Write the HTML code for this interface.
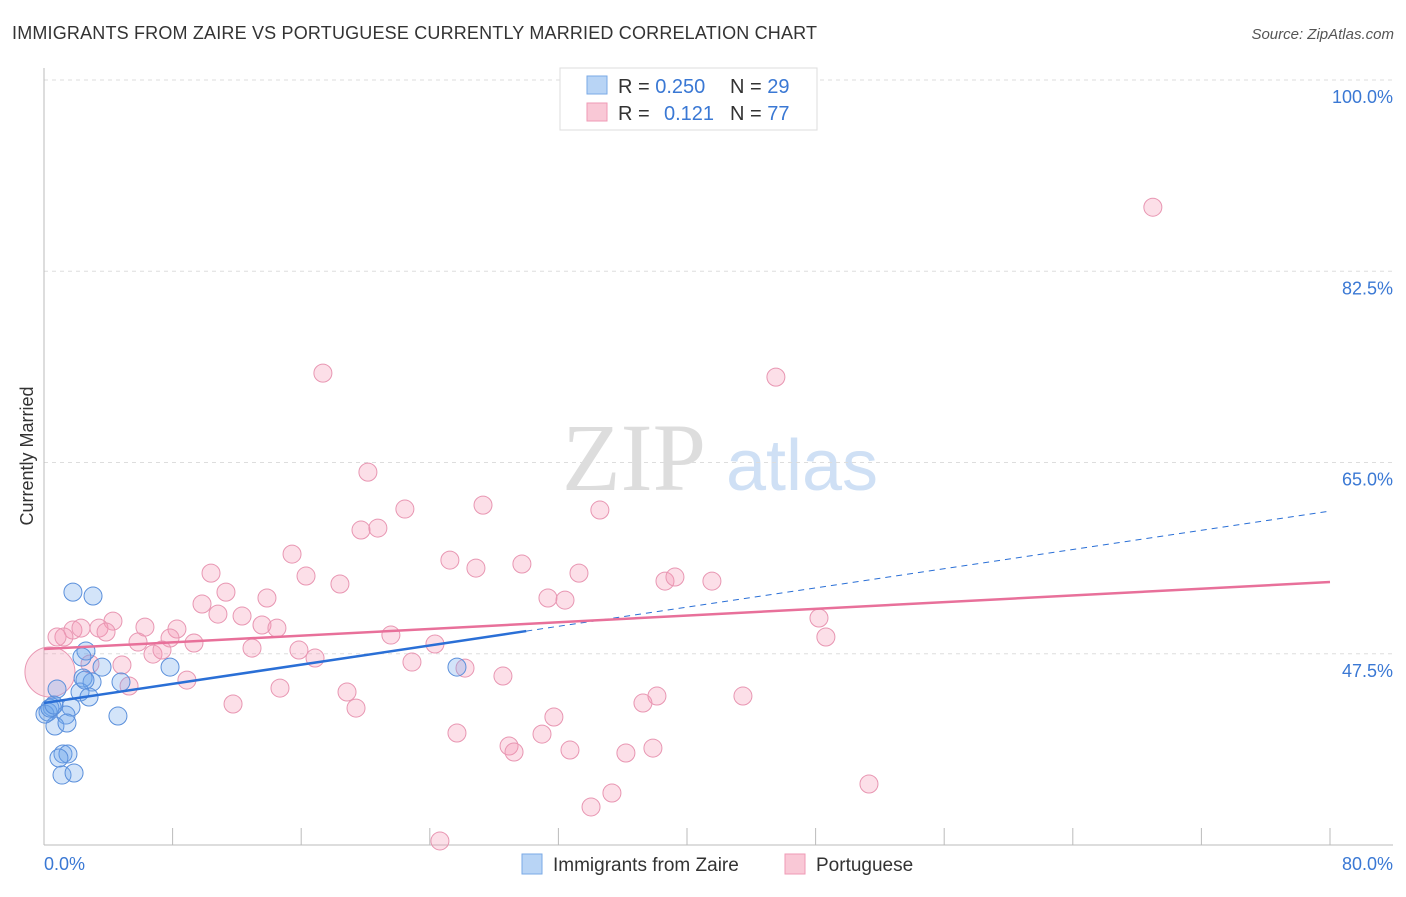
<!DOCTYPE html>
<html><head><meta charset="utf-8"><style>
body{margin:0;background:#fff;font-family:"Liberation Sans",sans-serif;}
</style></head><body>
<svg id="chart" width="1406" height="892" xmlns="http://www.w3.org/2000/svg" font-family="Liberation Sans, sans-serif">
<text x="12" y="39" font-size="18" fill="#333" textLength="805">IMMIGRANTS FROM ZAIRE VS PORTUGUESE CURRENTLY MARRIED CORRELATION CHART</text>
<text x="1394" y="39" font-size="15" fill="#555" text-anchor="end" font-style="italic">Source: ZipAtlas.com</text>
<g>
<text x="634" y="490" font-size="96" fill="#ddd" font-family="Liberation Serif, serif" text-anchor="middle">ZIP</text>
<text x="802" y="490" font-size="72" fill="#cfe0f5" text-anchor="middle">atlas</text>
</g>
<text transform="translate(33,456) rotate(-90)" font-size="18" fill="#333" text-anchor="middle">Currently Married</text>
<g id="grid"></g><g id="axes"></g><g id="marks"></g>
<g>
<rect x="560" y="68" width="257" height="62" fill="#fff" stroke="#ddd"/>
<rect x="587" y="76" width="20" height="18" fill="#b8d4f5" stroke="#7aaae6"/>
<rect x="587" y="103" width="20" height="18" fill="#f9c8d6" stroke="#ef9ab5"/>
<text x="618" y="93" font-size="20" fill="#333">R = <tspan fill="#3a78d4">0.250</tspan><tspan x="730">N = </tspan><tspan fill="#3a78d4">29</tspan></text>
<text x="618" y="120" font-size="20" fill="#333">R = <tspan x="664" fill="#3a78d4">0.121</tspan><tspan x="730">N = </tspan><tspan fill="#3a78d4">77</tspan></text>
</g>
<g>
<rect x="522" y="854" width="20" height="20" fill="#b8d4f5" stroke="#7aaae6"/>
<text x="553" y="871" font-size="19" fill="#333">Immigrants from Zaire</text>
<rect x="785" y="854" width="20" height="20" fill="#f9c8d6" stroke="#ef9ab5"/>
<text x="816" y="871" font-size="19" fill="#333">Portuguese</text>
</g>
</svg>
<script>
const blueX=[1.80,3.05,2.61,2.36,3.61,7.84,25.69,2.43,2.99,4.79,0.81,2.24,2.80,1.68,0.50,0.25,1.37,4.60,0.68,1.43,1.18,1.49,0.93,1.12,1.87,0.06,0.37,0.62,2.55];
const blueY=[53.14,52.78,47.75,47.20,46.28,46.28,46.28,45.28,44.91,44.91,44.27,44.00,43.54,42.62,42.62,42.17,41.89,41.80,40.89,41.16,38.33,38.33,37.96,36.40,36.59,41.98,42.53,42.81,45.09];
const pinkX=[17.35,45.53,68.98,20.15,22.45,27.31,34.58,19.72,20.77,15.43,25.25,26.87,29.73,16.30,10.39,33.28,38.63,39.25,41.55,18.41,11.32,13.87,31.35,32.41,9.83,10.82,12.32,4.29,48.21,3.42,6.28,8.27,13.56,14.49,1.80,2.30,3.86,1.24,0.81,5.85,7.84,9.33,12.94,21.58,24.32,48.64,6.78,7.34,15.86,16.86,2.86,4.85,22.89,26.19,28.55,8.89,5.29,14.68,18.85,38.13,37.26,43.48,11.76,19.41,31.72,25.69,30.98,28.93,29.24,32.72,36.20,37.88,35.33,51.32,34.03,24.63,0.37];
const pinkY=[73.18,72.81,88.36,64.12,60.74,61.10,60.65,58.82,59.00,56.62,56.07,55.34,55.71,54.61,54.88,54.88,54.15,54.52,54.15,53.88,53.14,52.60,52.60,52.41,52.05,51.13,50.95,50.49,50.77,49.85,49.94,49.76,50.13,49.85,49.67,49.85,49.49,49.03,49.03,48.57,48.94,48.48,48.02,49.21,48.39,49.03,47.47,47.84,47.84,47.11,46.56,46.47,46.74,46.19,45.46,45.09,44.55,44.36,44.00,43.63,42.99,43.63,42.90,42.53,41.71,40.25,40.15,39.06,38.51,38.69,38.42,38.87,34.76,35.58,33.48,30.37,45.83];
const blueTrend=[42.99,60.55];
const pinkTrend=[47.93,54.06];
const yTicks=[100,82.5,65,47.5];
const xTickVals=[8,16,24,32,40,48,56,64,72,80];
const NS="http://www.w3.org/2000/svg";
const X=v=>44+v/80*1286, Y=v=>845-(v-30)/70*765;
function mk(t,a,p){const e=document.createElementNS(NS,t);for(const k in a)e.setAttribute(k,a[k]);document.getElementById(p).appendChild(e);return e;}
yTicks.forEach(v=>{
 const l=mk('line',{x1:44,x2:1393,y1:Y(v),y2:Y(v),stroke:'#ddd','stroke-dasharray':'4,4'},'grid');
 
 
 const t=mk('text',{x:1393,y:Y(v)+23,'font-size':18,fill:'#3a78d4','text-anchor':'end'},'grid');
 
 
 t.textContent=v.toFixed(1)+'%';
});
let ax=mk('line',{x1:44,x2:44,y1:68,y2:845,stroke:'#bbb'},'axes');


ax=mk('line',{x1:44,x2:1393,y1:845,y2:845,stroke:'#bbb'},'axes');


xTickVals.forEach(v=>{
 const l=mk('line',{x1:X(v),x2:X(v),y1:828,y2:845,stroke:'#bbb'},'axes');
 
 
});
[[0,'start'],[80,'end']].forEach(([v,a])=>{
 const t=mk('text',{x:v==0?44:1393,y:870,'font-size':18,fill:'#3a78d4','text-anchor':a},'axes');
 
 
 t.textContent=v.toFixed(1)+'%';
});
pinkX.forEach((x,i)=>{
 const c=mk('circle',{cx:X(x),cy:Y(pinkY[i]),r:i==pinkX.length-1?25:9,fill:'rgba(244,150,180,0.3)',stroke:'#e896b2','stroke-width':1},'marks');
 
 
});
blueX.forEach((x,i)=>{
 const c=mk('circle',{cx:X(x),cy:Y(blueY[i]),r:9,fill:'rgba(110,165,235,0.3)',stroke:'#5a8fdb','stroke-width':1},'marks');
 
 
});
const bx=30;const bm=blueTrend[0]+(blueTrend[1]-blueTrend[0])*bx/80;
let l=mk('line',{x1:X(0),y1:Y(blueTrend[0]),x2:X(bx),y2:Y(bm),stroke:'#2a6fd6','stroke-width':2.5},'marks');


l=mk('line',{x1:X(bx),y1:Y(bm),x2:X(80),y2:Y(blueTrend[1]),stroke:'#2a6fd6','stroke-width':1,'stroke-dasharray':'6,5'},'marks');


l=mk('line',{x1:X(0),y1:Y(pinkTrend[0]),x2:X(80),y2:Y(pinkTrend[1]),stroke:'#e8709a','stroke-width':2.5},'marks');


</script>
</body></html>
